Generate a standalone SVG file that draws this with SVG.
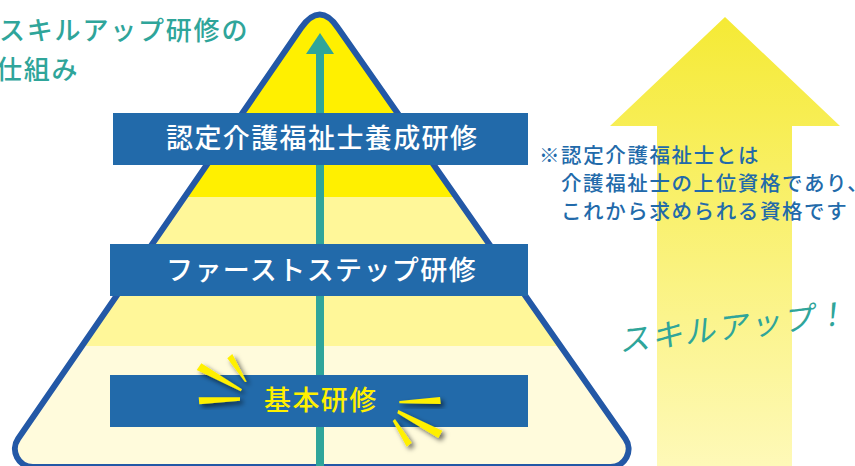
<svg xmlns="http://www.w3.org/2000/svg" width="855" height="466" viewBox="0 0 855 466">
<style>
text{font-family:"Noto Sans CJK JP","Noto Sans",sans-serif}
.title{font-size:26px;font-weight:500;fill:#2FA59A;letter-spacing:1.8px}
.band{fill:#226AAA}
.bt{font-size:27px;font-weight:500;fill:#fff;letter-spacing:1.4px}
.note{font-size:20.5px;font-weight:500;fill:#226AAA;letter-spacing:1.6px}
.spark{fill:#FFF000;filter:url(#sh)}
</style>
<defs>
<linearGradient id="up" gradientUnits="userSpaceOnUse" x1="0" y1="17" x2="0" y2="466"><stop offset="0" stop-color="#F5EA35"/><stop offset="1" stop-color="#FEF9B8"/></linearGradient>
<clipPath id="pyr"><path d="M301,28 Q320,1 338,28 L625.4,438.8 A18,18 0 0 1 610.5,467 L33,467 A18,18 0 0 1 18.1,438.8 Z"/></clipPath>
<filter id="sh" x="-50%" y="-50%" width="220%" height="220%"><feDropShadow dx="3" dy="3" stdDeviation="2.5" flood-color="#000" flood-opacity=".6"/></filter>
</defs>
<g id="title"><text class="title" x="-1" y="40">スキルアップ研修の</text><text class="title" x="-4" y="79">仕組み</text></g>
<g id="skillup-arrow"><path d="M725,17 L840,126 L792,126 L792,466 L657,466 L657,126 L610,126 Z" fill="url(#up)"/></g>
<g id="pyramid">
<g clip-path="url(#pyr)"><rect x="0" y="0" width="640" height="197" fill="#FFF000"/><rect x="0" y="197" width="640" height="149" fill="#FFF799"/><rect x="0" y="346" width="640" height="122" fill="#FFFBDC"/></g>
<path d="M301,28 Q320,1 338,28 L625.4,438.8 A18,18 0 0 1 610.5,467 L33,467 A18,18 0 0 1 18.1,438.8 Z" fill="none" stroke="#2358A6" stroke-width="6"/>
</g>
<g id="connectors"><path d="M320,466 V50" stroke="#2FA59A" stroke-width="8" fill="none"/><path d="M320,33 L334,54 L306,54 Z" fill="#2FA59A"/></g>
<g id="node-care"><rect class="band" x="113" y="113" width="415" height="52"/><text class="bt" x="166" y="148">認定介護福祉士養成研修</text></g>
<g id="node-first"><rect class="band" x="110" y="244" width="418" height="52"/><text class="bt" x="166" y="280">ファーストステップ研修</text></g>
<g id="node-basic"><rect class="band" x="110" y="375" width="418" height="52"/><text class="bt" x="264" y="410" style="fill:#FFF000">基本研修</text></g>
<g id="sparks">
<polygon class="spark" points="227.3,358.3 232.3,354 246.7,381.7 245,382"/>
<polygon class="spark" points="196.7,370 201.3,363.3 242,389.3 240.7,391.3"/>
<polygon class="spark" points="198.7,397.3 199.3,404.3 240,400.7 240,397.3"/>
<polygon class="spark" points="440,397 440.7,404 399.3,403.3 399.3,401"/>
<polygon class="spark" points="398.3,410 442.3,430.7 438.3,438 397.3,413.3"/>
<polygon class="spark" points="395,419 392.7,421 406.7,446.7 411.7,442.7"/>
</g>
<g id="note"><text class="note" x="539" y="163">※認定介護福祉士とは</text><text class="note" x="561" y="191">介護福祉士の上位資格であり、</text><text class="note" x="561" y="219">これから求められる資格です</text></g>
<g id="skillup-label"><text transform="translate(620,352) rotate(-7) skewX(-12)" font-size="31" fill="#2FA59A" letter-spacing="2" style="font-weight:400">スキルアップ！</text></g>
</svg>
